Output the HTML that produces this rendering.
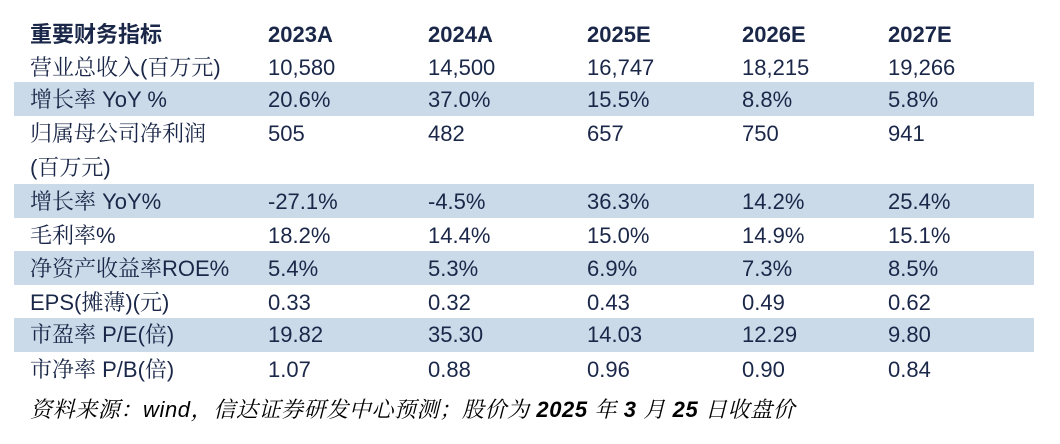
<!DOCTYPE html>
<html><head><meta charset="utf-8"><style>
body{margin:0;width:1060px;height:444px;background:#fff;position:relative;overflow:hidden;font-family:"Liberation Sans","Noto Serif CJK SC",serif;color:#1a2748}
.sh{position:absolute;left:14px;width:1020px;height:34px;background:#cbdae9}
.t{position:absolute;font-size:22px;line-height:26px;white-space:nowrap;transform:translateY(-50%)}
.b{font-weight:bold;font-family:"Liberation Sans","Noto Sans CJK SC",sans-serif}
.f{font-style:italic;color:#000;font-size:22px;letter-spacing:0.6px}
</style></head><body>
<div class="sh" style="top:82px"></div>
<div class="sh" style="top:184px"></div>
<div class="sh" style="top:251px"></div>
<div class="sh" style="top:318px"></div>
<div id="c"></div>
<script>
const rows=[
[35,["重要财务指标","2023A","2024A","2025E","2026E","2027E"],1],
[68,["营业总收入(百万元)","10,580","14,500","16,747","18,215","19,266"]],
[100,["增长率 YoY %","20.6%","37.0%","15.5%","8.8%","5.8%"]],
[134,["归属母公司净利润","505","482","657","750","941"]],
[168,["(百万元)","","","","",""]],
[202,["增长率 YoY%","-27.1%","-4.5%","36.3%","14.2%","25.4%"]],
[236,["毛利率%","18.2%","14.4%","15.0%","14.9%","15.1%"]],
[269,["净资产收益率ROE%","5.4%","5.3%","6.9%","7.3%","8.5%"]],
[303,["EPS(摊薄)(元)","0.33","0.32","0.43","0.49","0.62"]],
[335,["市盈率 P/E(倍)","19.82","35.30","14.03","12.29","9.80"]],
[370,["市净率 P/B(倍)","1.07","0.88","0.96","0.90","0.84"]]];
const xs=[30,268,428,587,742,888];let h="";
rows.forEach(([y,c,b])=>c.forEach((s,i)=>{h+=`<div class="t${b?' b':''}" style="left:${xs[i]}px;top:${y}px">${s}</div>`}));
h+=`<div class="t f" style="left:30px;top:410px">资料来源：wind，信达证券研发中心预测；股价为 <b>2025</b> 年 <b>3</b> 月 <b>25</b> 日收盘价</div>`;
document.getElementById("c").innerHTML=h;
</script>
</body></html>
